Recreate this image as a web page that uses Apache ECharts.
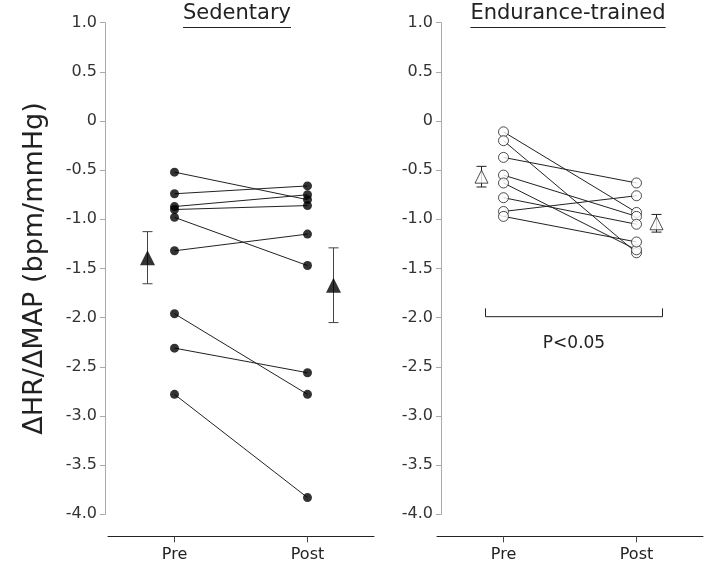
<!DOCTYPE html>
<html><head><meta charset="utf-8">
<script src="https://cdn.jsdelivr.net/npm/echarts@6/dist/echarts.min.js"></script>
<style>html,body{margin:0;padding:0;background:#fff}#c{width:708px;height:574px}</style>
</head><body><div id="c"></div><script>
// ---- data ----
const categories = ['Pre', 'Post'];
const yTicksMin = -4.0, yTicksMax = 1.0, yTickStep = 0.5;
const panelTitles = ['Sedentary', 'Endurance-trained'];
const yAxisTitle = 'ΔHR/ΔMAP (bpm/mmHg)';

// Sedentary subjects (paired)
const sedPre  = [-0.52, -0.74, -0.87, -0.90, -0.98, -1.32, -1.96, -2.31, -2.78];
const sedPost = [-0.80, -0.66, -0.75, -0.86, -1.47, -1.15, -2.78, -2.56, -3.83];
const sedMean = [-1.39, -1.67];
const sedErr  = [0.265, 0.38];

// Endurance-trained subjects (paired)
const endPre  = [-0.11, -0.20, -0.37, -0.55, -0.63, -0.78, -0.92, -0.97];
const endPost = [-0.93, -1.34, -0.63, -0.97, -1.31, -1.05, -0.76, -1.23];
const endMean = [-0.566, -1.04];
const endErr  = [0.105, 0.09];

// significance annotation
const sigLabel = 'P<0.05';
const sigBracketY = -1.99;
const sigBracketTop = -1.905;

// ---- chart ----
const FONT = 'DejaVu Sans';
const chart = echarts.init(document.getElementById('c'), null, {renderer: 'canvas'});

const gridTop = 22.7, gridH = 491.6;
const grids = [
  {left: 108, top: gridTop, width: 266, height: gridH},
  {left: 437, top: gridTop, width: 266, height: gridH}
];
const yOffsets = [3, -4];

function xAx(i) {
  return {
    type: 'category', gridIndex: i, data: categories, boundaryGap: true,
    offset: 22,
    axisLine: {show: true, onZero: false, lineStyle: {color: '#222', width: 1}},
    axisTick: {show: true, alignWithLabel: true, length: 6, lineStyle: {color: '#444'}},
    axisLabel: {fontSize: 16, color: '#222', margin: 11, fontFamily: FONT},
    splitLine: {show: false}
  };
}
function yAx(i) {
  const o = {
    type: 'value', gridIndex: i, min: yTicksMin, max: yTicksMax, interval: yTickStep,
    offset: yOffsets[i],
    axisLine: {show: true, onZero: false, lineStyle: {color: '#aaa', width: 1}},
    axisTick: {show: true, length: 5, lineStyle: {color: '#aaa'}},
    axisLabel: {fontSize: 16, color: '#333', margin: 8, fontFamily: FONT,
      formatter: v => (Math.abs(v) < 1e-9 ? '0' : v.toFixed(1))},
    splitLine: {show: false}
  };
  if (i === 0) {
    o.name = yAxisTitle;
    o.nameLocation = 'middle';
    o.nameRotate = 90;
    o.nameGap = 57;
    o.nameTextStyle = {fontSize: 27, color: '#222', fontFamily: FONT};
  }
  return o;
}

const series = [];
function addPanel(idx, pre, post, mean, err, filled, meanOffsets, triSize) {
  // connecting lines
  pre.forEach((v, k) => {
    series.push({
      type: 'line', xAxisIndex: idx, yAxisIndex: idx,
      data: [[categories[0], v], [categories[1], post[k]]],
      showSymbol: false, symbol: 'none', silent: true, animation: false, z: 2,
      lineStyle: {color: '#222', width: 1}
    });
  });
  // points
  const ptStyle = filled ? {color: '#000'} : {color: '#fff', borderColor: '#222', borderWidth: 1};
  series.push({
    type: 'scatter', xAxisIndex: idx, yAxisIndex: idx, z: 3, animation: false, silent: true,
    symbol: 'circle', symbolSize: filled ? 9 : 10, itemStyle: ptStyle,
    data: pre.map(v => [categories[0], v]).concat(post.map(v => [categories[1], v]))
  });
  // error bars
  series.push({
    type: 'custom', xAxisIndex: idx, yAxisIndex: idx, z: 4, animation: false, silent: true,
    data: mean.map((m, k) => [k, m, err[k]]),
    renderItem: function (params, api) {
      const x = api.value(0), m = api.value(1), e = api.value(2);
      const off = meanOffsets[params.dataIndex];
      const hi = api.coord([x, m + e]), lo = api.coord([x, m - e]);
      const cx = hi[0] + off, cw = 5;
      const st = {stroke: filled ? '#444' : '#222', lineWidth: 1};
      return {type: 'group', children: [
        {type: 'line', shape: {x1: cx, y1: hi[1], x2: cx, y2: lo[1]}, style: st},
        {type: 'line', shape: {x1: cx - cw, y1: hi[1], x2: cx + cw, y2: hi[1]}, style: st},
        {type: 'line', shape: {x1: cx - cw, y1: lo[1], x2: cx + cw, y2: lo[1]}, style: st}
      ]};
    }
  });
  // means
  series.push({
    type: 'scatter', xAxisIndex: idx, yAxisIndex: idx, z: 5, animation: false, silent: true,
    symbol: 'triangle', symbolSize: triSize,
    itemStyle: filled ? {color: '#000'} : {color: '#fff', borderColor: '#222', borderWidth: 1},
    data: mean.map((m, k) => ({value: [categories[k], m], symbolOffset: [meanOffsets[k], 0]}))
  });
}
addPanel(0, sedPre, sedPost, sedMean, sedErr, true, [-27, 26], [15, 15]);
addPanel(1, endPre, endPost, endMean, endErr, false, [-22, 20], [13, 13]);

// significance bracket
series.push({
  type: 'custom', xAxisIndex: 1, yAxisIndex: 1, z: 4, animation: false, silent: true,
  data: [[0, sigBracketY, sigBracketTop]],
  renderItem: function (params, api) {
    const yb = api.value(1), yt = api.value(2);
    const a = api.coord([0, yb]), b = api.coord([1, yb]);
    const t = api.coord([0, yt]);
    const x1 = a[0] - 18, x2 = b[0] + 26;
    const st = {stroke: '#222', lineWidth: 1};
    return {type: 'group', children: [
      {type: 'line', shape: {x1: x1, y1: a[1], x2: x2, y2: a[1]}, style: st},
      {type: 'line', shape: {x1: x1, y1: t[1], x2: x1, y2: a[1]}, style: st},
      {type: 'line', shape: {x1: x2, y1: t[1], x2: x2, y2: a[1]}, style: st},
      {type: 'text', style: {text: sigLabel, x: (x1 + x2) / 2, y: a[1] + 27, align: 'center',
        verticalAlign: 'middle', font: '17px "' + FONT + '"', fill: '#222'}}
    ]};
  }
});

// titles with underline
const ctx = document.createElement('canvas').getContext('2d');
const titleFont = '21px "' + FONT + '"';
ctx.font = titleFont;
const titleCenters = [237, 568];
const graphics = [];
panelTitles.forEach((t, i) => {
  const w = ctx.measureText(t).width;
  const cx = titleCenters[i];
  graphics.push({type: 'text', left: cx - w / 2, top: 3, style: {text: t, font: titleFont, fill: '#222'}});
  graphics.push({type: 'line', shape: {x1: cx - w / 2, y1: 27.5, x2: cx + w / 2, y2: 27.5},
    style: {stroke: '#222', lineWidth: 1}});
});

chart.setOption({
  animation: false,
  backgroundColor: '#fff',
  grid: grids,
  xAxis: [xAx(0), xAx(1)],
  yAxis: [yAx(0), yAx(1)],
  series: series,
  graphic: graphics
});
</script></body></html>
